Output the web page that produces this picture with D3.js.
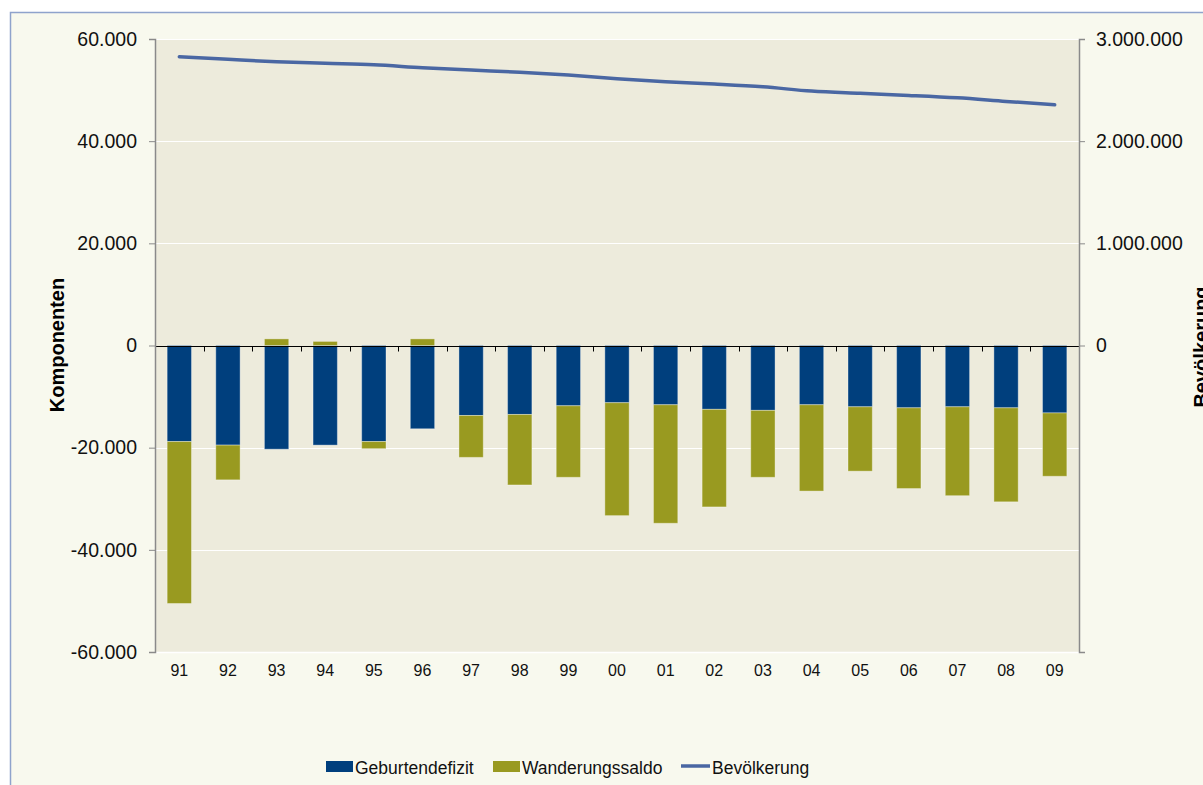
<!DOCTYPE html>
<html>
<head>
<meta charset="utf-8">
<script src="https://cdn.jsdelivr.net/npm/d3@7"></script>
<style>
  html, body { margin: 0; padding: 0; background: #ffffff; overflow: hidden; }
  svg { display: block; font-family: "Liberation Sans", Arial, sans-serif; }
</style>
</head>
<body>
<svg id="chart" width="1203" height="785"></svg>
<script>
// ---- data ----
const years = ["91","92","93","94","95","96","97","98","99","00","01","02","03","04","05","06","07","08","09"];
const geburtendefizit = [-18800, -19500, -20300, -19500, -18800, -16300, -13700, -13500, -11800, -11200, -11600, -12500, -12700, -11600, -12000, -12200, -12000, -12200, -13200];
const wanderungssaldo = [-31700, -6800, 1300, 800, -1400, 1300, -8200, -13800, -14000, -22100, -23200, -19100, -13100, -16900, -12600, -15800, -17400, -18400, -12400];
const bevoelkerung = [2826000, 2801000, 2777000, 2762000, 2748000, 2719000, 2696000, 2674000, 2647000, 2611000, 2581000, 2559000, 2532000, 2490000, 2468000, 2448000, 2424000, 2389000, 2356000];
const leftTicks = [-60000, -40000, -20000, 0, 20000, 40000, 60000];
const rightTicks = [0, 1000000, 2000000, 3000000];
const seriesNames = ["Geburtendefizit", "Wanderungssaldo", "Bevölkerung"];
const colors = { geb: "#003f7d", wan: "#999a20", bev: "#4a67a3" };

const svg = d3.select("#chart");
const W = 1203, H = 785;
const plot = { left: 155, right: 1079, top: 39, bottom: 652 };

const locale = d3.formatLocale({ decimal: ",", thousands: ".", grouping: [3], currency: ["", "€"], minus: "-" });
const fmt = locale.format(",d");

// backgrounds
svg.append("rect").attr("x", 0).attr("y", 0).attr("width", W).attr("height", H).attr("fill", "#ffffff");
svg.append("rect").attr("x", 10.5).attr("y", 12.5).attr("width", W + 20).attr("height", H + 20)
  .attr("fill", "#f8f9ee").attr("stroke", "#8fa3cc").attr("stroke-width", 1.5);
svg.append("rect").attr("x", plot.left).attr("y", plot.top)
  .attr("width", plot.right - plot.left).attr("height", plot.bottom - plot.top)
  .attr("fill", "#edebdc");

// scales
const x = d3.scaleBand().domain(years).range([plot.left, plot.right]).paddingInner(0.5).paddingOuter(0.25);
const y = d3.scaleLinear().domain([-60000, 60000]).range([plot.bottom, plot.top]);
const y2 = d3.scaleLinear().domain([-3000000, 3000000]).range([plot.bottom, plot.top]);

// gridlines
svg.append("g").selectAll("line").data(leftTicks.filter(d => d !== 0 && d !== -60000)).join("line")
  .attr("x1", plot.left).attr("x2", plot.right)
  .attr("y1", d => Math.round(y(d)) + 0.5).attr("y2", d => Math.round(y(d)) + 0.5)
  .attr("stroke", "#ffffff").attr("stroke-width", 1.2);
svg.append("line").attr("x1", plot.left).attr("x2", plot.right)
  .attr("y1", plot.bottom + 0.5).attr("y2", plot.bottom + 0.5).attr("stroke", "#ffffff").attr("stroke-width", 1.5);

// stacked bars
const table = years.map((yr, i) => ({ year: yr, geb: geburtendefizit[i], wan: wanderungssaldo[i] }));
const stack = d3.stack().keys(["geb", "wan"]).offset(d3.stackOffsetDiverging);
const stacked = stack(table);
svg.append("g").selectAll("g").data(stacked).join("g")
  .attr("fill", d => colors[d.key])
  .selectAll("rect").data(d => d).join("rect")
  .attr("x", d => x(d.data.year))
  .attr("width", x.bandwidth())
  .attr("y", d => y(Math.max(d[0], d[1])))
  .attr("height", d => Math.abs(y(d[0]) - y(d[1])))
  .attr("stroke", "rgba(255,255,255,0.35)").attr("stroke-width", 1);

// zero axis with category ticks
const zeroY = Math.round(y(0)) + 0.5;
svg.append("line").attr("x1", plot.left).attr("x2", plot.right).attr("y1", zeroY).attr("y2", zeroY)
  .attr("stroke", "#000000").attr("stroke-width", 1.2);
const boundaries = years.map(d => x(d) - x.step() * x.paddingInner() / 2).concat([plot.right]);
svg.append("g").selectAll("line").data(boundaries).join("line")
  .attr("x1", d => Math.round(d) + 0.5).attr("x2", d => Math.round(d) + 0.5)
  .attr("y1", zeroY).attr("y2", zeroY + 5)
  .attr("stroke", "#000000").attr("stroke-width", 1);

// left axis
const gL = svg.append("g").attr("transform", `translate(${plot.left},0)`)
  .call(d3.axisLeft(y).tickValues(leftTicks).tickFormat(fmt).tickSize(6).tickPadding(12));
gL.select(".domain").attr("stroke", "#8a8a8a").attr("stroke-width", 1.5);
gL.selectAll(".tick line").attr("stroke", "#8a8a8a");
gL.selectAll("text").attr("font-size", 19.5).attr("fill", "#111").attr("font-family", "Liberation Sans, Arial, sans-serif");

// right axis
const gR = svg.append("g").attr("transform", `translate(${plot.right},0)`)
  .call(d3.axisRight(y2).tickValues(rightTicks).tickFormat(fmt).tickSize(6).tickPadding(11));
gR.select(".domain").attr("stroke", "#8a8a8a").attr("stroke-width", 1.5);
gR.selectAll(".tick line").attr("stroke", "#8a8a8a");
gR.selectAll("text").attr("font-size", 19.5).attr("fill", "#111").attr("font-family", "Liberation Sans, Arial, sans-serif");

// x labels
const gX = svg.append("g").attr("transform", `translate(0,${plot.bottom})`)
  .call(d3.axisBottom(x).tickSize(0).tickPadding(13));
gX.select(".domain").remove();
gX.selectAll("text").attr("font-size", 16).attr("fill", "#111").attr("font-family", "Liberation Sans, Arial, sans-serif");

// population line
const line = d3.line()
  .x((d, i) => x(years[i]) + x.bandwidth() / 2)
  .y(d => y2(d))
  .curve(d3.curveMonotoneX);
svg.append("path").datum(bevoelkerung).attr("d", line)
  .attr("fill", "none").attr("stroke", colors.bev).attr("stroke-width", 3.5).attr("stroke-linecap", "round");

// axis titles
svg.append("text").attr("transform", "translate(64,345) rotate(-90)")
  .attr("text-anchor", "middle").attr("font-size", 20).attr("font-weight", "bold").attr("fill", "#000")
  .text("Komponenten");
svg.append("text").attr("transform", "translate(1208,347) rotate(-90)")
  .attr("text-anchor", "middle").attr("font-size", 20).attr("font-weight", "bold").attr("fill", "#000")
  .text("Bevölkerung");

// legend
const leg = svg.append("g");
const legItems = [
  { name: seriesNames[0], type: "rect", color: colors.geb, x: 326 },
  { name: seriesNames[1], type: "rect", color: colors.wan, x: 493 },
  { name: seriesNames[2], type: "line", color: colors.bev, x: 681 }
];
legItems.forEach(it => {
  if (it.type === "rect") {
    leg.append("rect").attr("x", it.x).attr("y", 761).attr("width", 27).attr("height", 11).attr("fill", it.color);
  } else {
    leg.append("line").attr("x1", it.x).attr("x2", it.x + 29).attr("y1", 766).attr("y2", 766)
      .attr("stroke", it.color).attr("stroke-width", 3.5);
  }
  leg.append("text").attr("x", it.x + (it.type === "rect" ? 29 : 31)).attr("y", 773.5)
    .attr("font-size", 17.5).attr("fill", "#111").text(it.name);
});
</script>
</body>
</html>
